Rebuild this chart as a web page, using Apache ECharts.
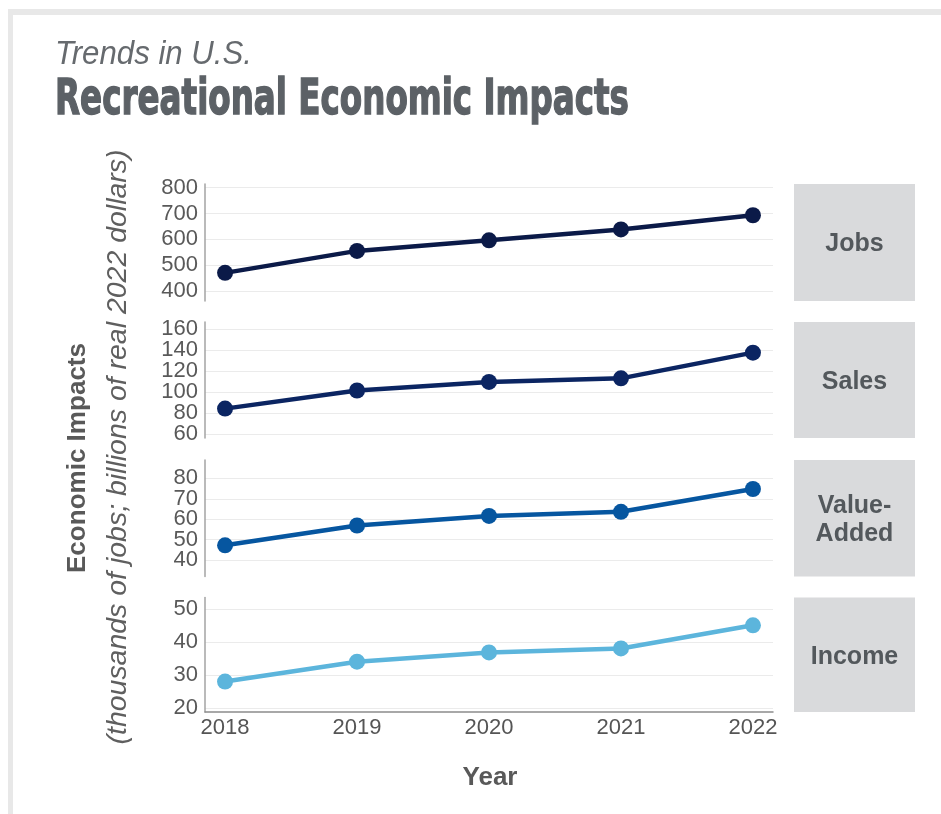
<!DOCTYPE html>
<html><head><meta charset="utf-8">
<script src="https://cdn.jsdelivr.net/npm/echarts@6/dist/echarts.min.js"></script>
<style>html,body{margin:0;padding:0;background:#fff}#c{width:941px;height:814px}</style>
</head><body><div id="c"></div>
<script>
// ---- data ----
const years = [2018, 2019, 2020, 2021, 2022];
const jobs = [470, 555, 596, 638, 693];
const sales = [84.4, 101.6, 109.7, 113.1, 137.5];
const valueAdded = [47.2, 56.9, 61.6, 63.6, 74.8];
const income = [28.1, 34.1, 36.9, 38.1, 45.1];
const panelNames = ['Jobs', 'Sales', 'Value-\nAdded', 'Income'];
const yTickStep = [100, 20, 10, 10];
const yMin = [361, 56.5, 31.9, 18.9];
const yMax = [814, 166.6, 89, 53.5];
const titleSmall = 'Trends in U.S.';
const titleBig = 'Recreational Economic Impacts';
const yAxisTitle = 'Economic Impacts';
const yAxisSub = '(thousands of jobs; billions of real 2022 dollars)';
const xAxisTitle = 'Year';

// ---- layout / style ----
const seriesValues = [jobs, sales, valueAdded, income];
const lineColors = ['#0b1a48', '#0b2562', '#0656a0', '#5cb5dc'];
const panelTop = [184, 322, 460, 597.5];
const panelH = [117, 116, 116.5, 114.5];
const gridLeft = 205, gridRight = 941 - 773;
const xMin = 2017.848, xMax = 2022.152;
const labelFont = '"Liberation Sans", Arial, sans-serif';

function fitScale(text, font, w) {
  const ctx = document.createElement('canvas').getContext('2d');
  ctx.font = font;
  return w / ctx.measureText(text).width;
}

const grids = [], xAxes = [], yAxes = [], series = [], graphics = [];
for (let i = 0; i < 4; i++) {
  const last = i === 3;
  const step = yTickStep[i];
  grids.push({ left: gridLeft, right: gridRight, top: panelTop[i], height: panelH[i] });
  xAxes.push({
    type: 'value', gridIndex: i, min: xMin, max: xMax, minInterval: 1, maxInterval: 1,
    show: last,
    axisLine: { show: true, onZero: false, lineStyle: { color: '#8c8c8c', width: 1.5 } },
    axisTick: { show: false },
    splitLine: { show: false },
    axisLabel: {
      show: last, fontSize: 22, color: '#555', fontFamily: labelFont, margin: 5,
      showMinLabel: false, showMaxLabel: false,
      formatter: v => (Math.abs(v - Math.round(v)) < 1e-6 ? String(Math.round(v)) : '')
    }
  });
  yAxes.push({
    type: 'value', gridIndex: i, min: yMin[i], max: yMax[i], minInterval: step, maxInterval: step,
    axisLine: { show: true, lineStyle: { color: '#a3a3a3', width: 1.5 } },
    axisTick: { show: false },
    splitLine: { show: true, showMinLine: false, showMaxLine: false, lineStyle: { color: '#ebebeb', width: 1 } },
    axisLabel: {
      fontSize: 22, color: '#595959', fontFamily: labelFont, margin: 7,
      showMinLabel: false, showMaxLabel: false,
      formatter: v => (Math.abs(v / step - Math.round(v / step)) < 1e-6 ? String(Math.round(v)) : '')
    }
  });
  series.push({
    type: 'line', xAxisIndex: i, yAxisIndex: i,
    data: years.map((y, k) => [y, seriesValues[i][k]]),
    symbol: 'circle', symbolSize: 16, lineStyle: { width: 4.5, color: lineColors[i] },
    itemStyle: { color: lineColors[i] }, emphasis: { disabled: true }, animation: false
  });
  graphics.push({
    type: 'rect', shape: { x: 794, y: panelTop[i], width: 121, height: panelH[i] },
    style: { fill: '#d9dadc' }, silent: true
  });
  graphics.push({
    type: 'text', x: 854.5, y: panelTop[i] + panelH[i] / 2 + 2,
    style: { text: panelNames[i], fill: '#53585c', font: 'bold 25px ' + labelFont,
      align: 'center', verticalAlign: 'middle', lineHeight: 28 }, silent: true
  });
}

// frame
graphics.push({ type: 'rect', shape: { x: 8, y: 9, width: 933, height: 6 }, style: { fill: '#e8e8e8' }, silent: true });
graphics.push({ type: 'rect', shape: { x: 8, y: 9, width: 5, height: 805 }, style: { fill: '#e8e8e8' }, silent: true });

// titles
const fSmall = 'italic 33px ' + labelFont;
graphics.push({ type: 'text', x: 55, y: 55, scaleX: fitScale(titleSmall, fSmall, 197),
  style: { text: titleSmall, font: fSmall, fill: '#666a6e', align: 'left', verticalAlign: 'middle' }, silent: true });
const fBig = 'bold 50px "Liberation Sans Narrow", "DejaVu Sans Condensed", "Liberation Sans", sans-serif';
graphics.push({ type: 'text', x: 55, y: 101, scaleX: fitScale(titleBig, fBig, 574),
  style: { text: titleBig, font: fBig, fill: '#5c6166', stroke: '#5c6166', lineWidth: 1.4,
    align: 'left', verticalAlign: 'middle' }, silent: true });

// axis titles
const fYT = 'bold 26px ' + labelFont;
graphics.push({ type: 'text', x: 78, y: 458, rotation: Math.PI / 2, scaleX: fitScale(yAxisTitle, fYT, 230),
  style: { text: yAxisTitle, font: fYT, fill: '#595959', align: 'center', verticalAlign: 'middle' }, silent: true });
const fYS = 'italic 28px ' + labelFont;
graphics.push({ type: 'text', x: 118, y: 447, rotation: Math.PI / 2, scaleX: fitScale(yAxisSub, fYS, 595),
  style: { text: yAxisSub, font: fYS, fill: '#5f5f5f', align: 'center', verticalAlign: 'middle' }, silent: true });
graphics.push({ type: 'text', x: 490, y: 778,
  style: { text: xAxisTitle, font: 'bold 26px ' + labelFont, fill: '#595959', align: 'center', verticalAlign: 'middle' }, silent: true });

const chart = echarts.init(document.getElementById('c'), null, { renderer: 'canvas' });
chart.setOption({
  animation: false,
  backgroundColor: '#fff',
  grid: grids, xAxis: xAxes, yAxis: yAxes, series: series, graphic: graphics
});
</script></body></html>
